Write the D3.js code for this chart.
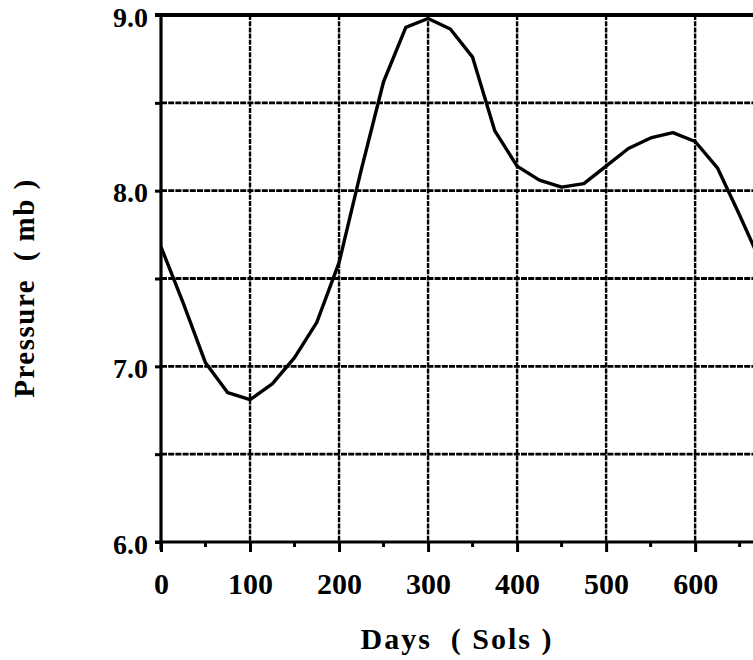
<!DOCTYPE html>
<html>
<head>
<meta charset="utf-8">
<script src="https://cdn.jsdelivr.net/npm/d3@7/dist/d3.min.js"></script>
<style>
  html, body { margin: 0; padding: 0; background: #fff; }
  svg { display: block; }
  text { font-family: "Liberation Serif", "DejaVu Serif", serif; fill: #000; white-space: pre; }
</style>
</head>
<body>
<svg id="chart" width="753" height="660"></svg>
<script>
// Surface pressure over the Martian year, sampled every 25 sols
const sols = [0, 25, 50, 75, 100, 125, 150, 175, 200, 225, 250, 275, 300, 325,
              350, 375, 400, 425, 450, 475, 500, 525, 550, 575, 600, 625, 650, 675];
const pressure = [7.68, 7.36, 7.02, 6.85, 6.81, 6.90, 7.05, 7.25, 7.59, 8.12, 8.62, 8.93, 8.98, 8.92,
                  8.76, 8.34, 8.14, 8.06, 8.02, 8.04, 8.14, 8.24, 8.30, 8.33, 8.28, 8.13, 7.86, 7.58];

const xTicks = [0, 100, 200, 300, 400, 500, 600];
const xMinorTicks = [50, 150, 250, 350, 450, 550, 650];
const yTicks = [6.0, 6.5, 7.0, 7.5, 8.0, 8.5, 9.0];
const yLabels = ["6.0", "", "7.0", "", "8.0", "", "9.0"];
const xTitle = "Days  ( Sols )";
const yTitle = "Pressure  ( mb )";

(function () {
  const svg = d3.select("#chart");
  const mLeft = 161, mRight = 753, mTop = 15, mBottom = 542;

  const x = d3.scaleLinear().domain([0, 665]).range([mLeft, mRight]);
  const y = d3.scaleLinear().domain([6, 9]).range([mBottom, mTop]);

  // clip region for the plotted curve
  svg.append("defs").append("clipPath").attr("id", "plotClip")
    .append("rect").attr("x", mLeft).attr("y", mTop - 3)
    .attr("width", mRight - mLeft).attr("height", mBottom - mTop + 6);

  // grid
  const grid = svg.append("g");
  grid.selectAll("line.v").data(xTicks.filter(d => d > 0)).join("line")
    .attr("class", "v")
    .attr("x1", d => x(d)).attr("x2", d => x(d))
    .attr("y1", mTop).attr("y2", mBottom)
    .attr("stroke", "#000").attr("stroke-width", 2.4)
    .attr("stroke-dasharray", "5,1.2");
  grid.selectAll("line.h").data(yTicks.filter(d => d > 6 && d < 9)).join("line")
    .attr("class", "h")
    .attr("x1", mLeft).attr("x2", mRight)
    .attr("y1", d => y(d)).attr("y2", d => y(d))
    .attr("stroke", "#000").attr("stroke-width", 2.8)
    .attr("stroke-dasharray", "6,1.2");

  // pressure curve
  const line = d3.line().x((d, i) => x(sols[i])).y(d => y(d));
  svg.append("path")
    .datum(pressure)
    .attr("clip-path", "url(#plotClip)")
    .attr("d", line)
    .attr("fill", "none")
    .attr("stroke", "#000")
    .attr("stroke-width", 3.4)
    .attr("stroke-linejoin", "round");

  // bottom axis with major and minor ticks
  const xAxis = svg.append("g").attr("transform", `translate(0,${mBottom})`)
    .call(d3.axisBottom(x).tickValues(xTicks).tickSize(10).tickPadding(21)
      .tickFormat(d3.format("d")));
  xAxis.select(".domain").remove();
  xAxis.selectAll(".tick line").attr("stroke", "#000").attr("stroke-width", 3);
  xAxis.selectAll(".tick text")
    .attr("font-size", 30).attr("font-weight", "bold").attr("fill", "#000");
  xAxis.selectAll("line.minor").data(xMinorTicks).join("line")
    .attr("class", "minor")
    .attr("x1", d => x(d)).attr("x2", d => x(d))
    .attr("y1", 0).attr("y2", 5)
    .attr("stroke", "#000").attr("stroke-width", 3);
  xAxis.append("line")
    .attr("x1", mLeft - 6).attr("x2", mRight)
    .attr("y1", 0).attr("y2", 0)
    .attr("stroke", "#000").attr("stroke-width", 3.2);

  // left axis
  const yAxis = svg.append("g").attr("transform", `translate(${mLeft},0)`)
    .call(d3.axisLeft(y).tickValues(yTicks).tickSize(6).tickPadding(7)
      .tickFormat((d, i) => yLabels[i]));
  yAxis.select(".domain").remove();
  yAxis.selectAll(".tick line").attr("stroke", "#000").attr("stroke-width", 3);
  yAxis.selectAll(".tick text")
    .attr("font-size", 28).attr("font-weight", "bold").attr("fill", "#000")
    .attr("dy", "0.4em");
  yAxis.append("line")
    .attr("x1", 0).attr("x2", 0)
    .attr("y1", mTop).attr("y2", mBottom + 8)
    .attr("stroke", "#000").attr("stroke-width", 3.2);

  // top frame line
  svg.append("line")
    .attr("x1", mLeft - 6).attr("x2", mRight)
    .attr("y1", mTop).attr("y2", mTop)
    .attr("stroke", "#000").attr("stroke-width", 4);

  // axis titles
  svg.append("text")
    .attr("x", (mLeft + mRight) / 2).attr("y", 649)
    .attr("text-anchor", "middle")
    .attr("font-size", 30).attr("font-weight", "bold")
    .attr("letter-spacing", 2)
    .text(xTitle);
  svg.append("text")
    .attr("transform", "translate(34,288) rotate(-90)")
    .attr("text-anchor", "middle")
    .attr("font-size", 29).attr("font-weight", "bold")
    .attr("letter-spacing", 1.5)
    .text(yTitle);
})();
</script>
</body>
</html>
